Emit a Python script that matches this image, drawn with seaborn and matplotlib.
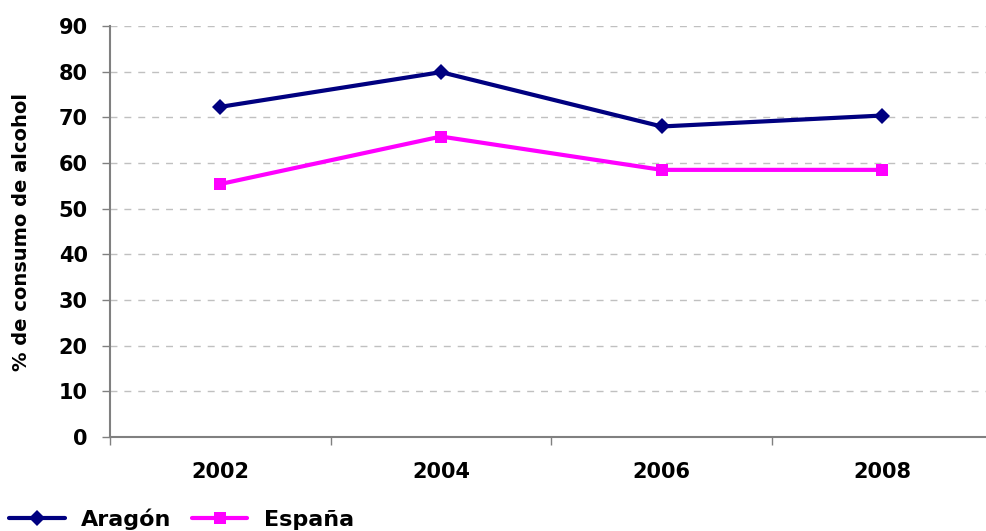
import pandas as pd
import seaborn as sns
import matplotlib.pyplot as plt
from matplotlib.ticker import FixedLocator

years = ['2002', '2004', '2006', '2008']
aragon = [72.3, 79.9, 68.0, 70.4]
espana = [55.4, 65.8, 58.5, 58.5]
series_names = ['Aragón', 'España']
colors = ['#000080', '#FF00FF']

df = pd.DataFrame({
    'year': years * 2,
    'valor': aragon + espana,
    'serie': [series_names[0]] * 4 + [series_names[1]] * 4,
})

sns.set_style('white')
plt.rcParams['font.family'] = ['DejaVu Sans']
plt.rcParams['font.weight'] = 'bold'
plt.rcParams['text.color'] = 'black'
plt.rcParams['xtick.color'] = 'black'
plt.rcParams['ytick.color'] = 'black'
plt.rcParams['axes.labelcolor'] = 'black'

fig = plt.figure(figsize=(9.86, 5.31), dpi=100)
ax = fig.add_axes([0.1116, 0.177, 0.8884, 0.774])

sns.lineplot(data=df, x='year', y='valor', hue='serie', style='serie',
             markers={'Aragón': 'D', 'España': 's'}, dashes=False,
             palette=dict(zip(series_names, colors)), linewidth=3,
             markersize=8, markeredgewidth=0, sort=False, ax=ax)

ax.set_ylim(0, 90)
ax.set_xlim(-0.5, 3.47)
ax.set_yticks(range(0, 91, 10))
ax.yaxis.grid(True, color='#C0C0C0', linestyle=(0, (5, 5)), linewidth=1)
ax.set_axisbelow(True)

for side in ['top', 'right']:
    ax.spines[side].set_visible(False)
for side in ['left', 'bottom']:
    ax.spines[side].set_color('#808080')
    ax.spines[side].set_linewidth(1.5)

ax.tick_params(axis='y', length=6, width=1, direction='out', labelsize=15,
               pad=10, left=True)
ax.tick_params(axis='y', color='#808080', labelcolor='black')
ax.tick_params(axis='x', which='major', length=0, labelsize=15, pad=18,
               labelcolor='black')
ax.xaxis.set_minor_locator(FixedLocator([-0.5, 0.5, 1.5, 2.5]))
ax.tick_params(axis='x', which='minor', length=6, width=1, color='#808080',
               direction='out', bottom=True)
for lab in ax.get_xticklabels() + ax.get_yticklabels():
    lab.set_fontweight('bold')

ax.set_xlabel('')
ax.set_ylabel('% de consumo de alcohol', fontsize=14, fontweight='bold',
              labelpad=20, color='black')

handles, labels = ax.get_legend_handles_labels()
ax.get_legend().remove()
leg = fig.legend(handles, labels, loc='lower left', bbox_to_anchor=(-0.011, -0.036),
                 ncol=2, frameon=False, handlelength=2.5, columnspacing=0.9,
                 handletextpad=0.75, prop={'size': 16, 'weight': 'bold'})
for t in leg.get_texts():
    t.set_color('black')

fig.savefig('out.png', dpi=100)
